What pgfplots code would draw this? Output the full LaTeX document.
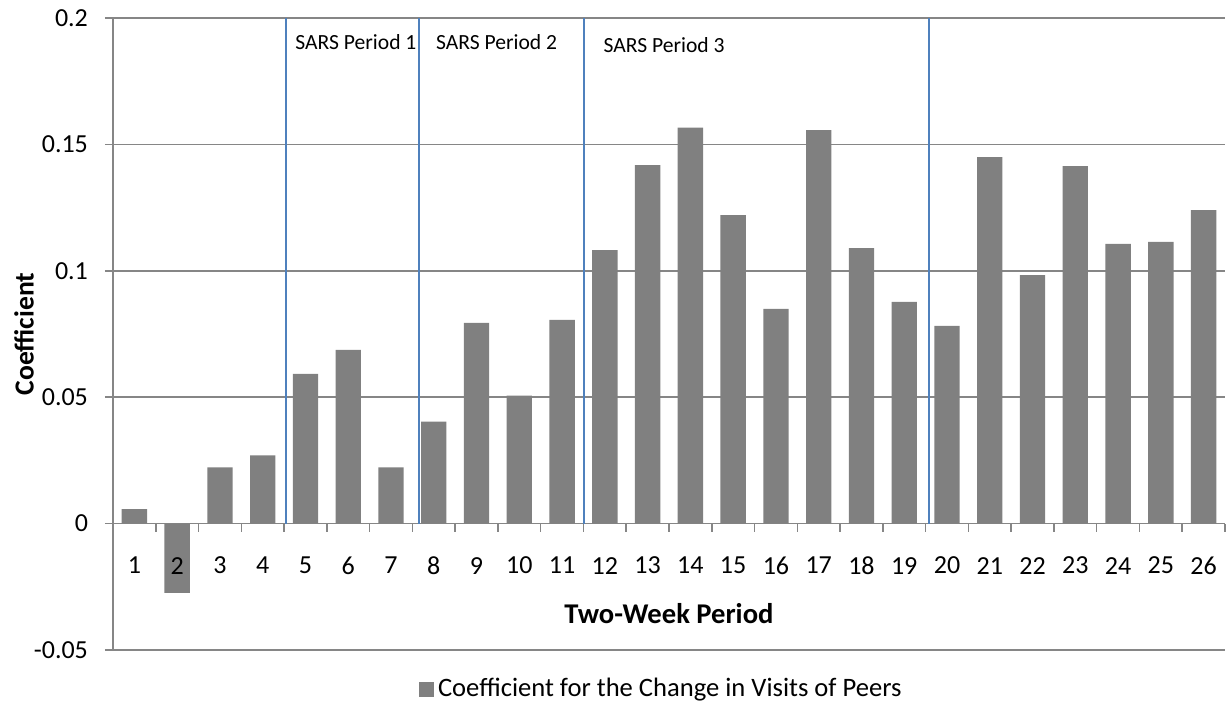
\documentclass[border=0pt]{standalone}
\usepackage{fontspec}
\setmainfont{Carlito}
\usepackage{pgfplots}
\pgfplotsset{compat=1.18}
\definecolor{bargray}{HTML}{808080}
\definecolor{gridgray}{HTML}{868686}
\definecolor{sarsblue}{HTML}{4F81BD}
\pgfplotsset{
  layers/mylayers/.define layer set={
    axis background,axis grid,axis ticks,axis lines,main,axis tick labels,axis descriptions,axis foreground
  }{/pgfplots/layers/standard},
}
\begin{document}
\begin{tikzpicture}
\begin{axis}[
  set layers=mylayers,
  at={(0,0)}, anchor=south west,
  scale only axis, width=556pt, height=316pt,
  xmin=0.5, xmax=26.5, ymin=-0.05, ymax=0.2,
  axis x line*=middle, axis y line*=left,
  axis line style={gridgray, line width=0.75pt},
  xtick={1,...,26},
  major x tick style={draw=none},
  minor xtick={0.5,1.5,...,26.5},
  minor x tick style={gridgray, line width=0.75pt},
  minor tick length=4pt,
  major tick length=4pt,
  tick align=outside,
  ytick={-0.05,0,0.05,0.1,0.15,0.2},
  yticklabels={-0.05,0,0.05,0.1,0.15,0.2},
  major y tick style={gridgray, line width=0.75pt},
  ymajorgrids,
  grid style={gridgray, line width=0.75pt},
  /pgf/number format/assume math mode=true,
  tick label style={font=\fontsize{13}{16}\selectfont, black},
  xticklabel style={anchor=center, yshift=-17pt},
  yticklabel style={anchor=east, xshift=-5pt},
  xlabel={\textbf{Two-Week Period}},
  xlabel style={at={(axis description cs:0.5,0.057)}, anchor=center, font=\fontsize{14.3}{17}\selectfont},
  ylabel={\textbf{Coefficient}},
  ylabel style={at={(axis description cs:-0.080,0.5)}, anchor=center, rotate=0, font=\fontsize{13.8}{17}\selectfont},
  legend style={at={(axis description cs:0.494,-0.062)}, anchor=center, draw=none, fill=none,
    font=\fontsize{13.3}{16}\selectfont, inner sep=0pt},
  legend image code/.code={\fill[bargray] (0pt,-3.75pt) rectangle (7.5pt,3.75pt);},
  clip=false,
]
\addplot[ybar, bar width=12.67pt, fill=bargray, draw=none] coordinates {
(1,0.0057) (2,-0.0274) (3,0.0222) (4,0.0270) (5,0.0592) (6,0.0687) (7,0.0222)
(8,0.0403) (9,0.0794) (10,0.0506) (11,0.0806) (12,0.1082) (13,0.1418) (14,0.1566)
(15,0.1220) (16,0.0849) (17,0.1556) (18,0.1090) (19,0.0877) (20,0.0782) (21,0.1450)
(22,0.0983) (23,0.1414) (24,0.1106) (25,0.1114) (26,0.1240)
};
\addlegendentry{Coefficient for the Change in Visits of Peers}
\addplot[sarsblue, line width=0.75pt, forget plot] coordinates {(4.54,0) (4.54,0.2)};
\addplot[sarsblue, line width=0.75pt, forget plot] coordinates {(7.65,0) (7.65,0.2)};
\addplot[sarsblue, line width=0.75pt, forget plot] coordinates {(11.51,0) (11.51,0.2)};
\addplot[sarsblue, line width=0.75pt, forget plot] coordinates {(19.58,0) (19.58,0.2)};
\node[anchor=west, inner sep=0pt, font=\fontsize{10.8}{13}\selectfont] at (axis cs:4.755,0.1904) {SARS Period 1};
\node[anchor=west, inner sep=0pt, font=\fontsize{10.8}{13}\selectfont] at (axis cs:8.045,0.1904) {SARS Period 2};
\node[anchor=west, inner sep=0pt, font=\fontsize{10.8}{13}\selectfont] at (axis cs:11.96,0.1892) {SARS Period 3};
\end{axis}
\pgfresetboundingbox
\useasboundingbox (-56.5pt,-28pt) rectangle (557pt,325pt);
\end{tikzpicture}
\end{document}
